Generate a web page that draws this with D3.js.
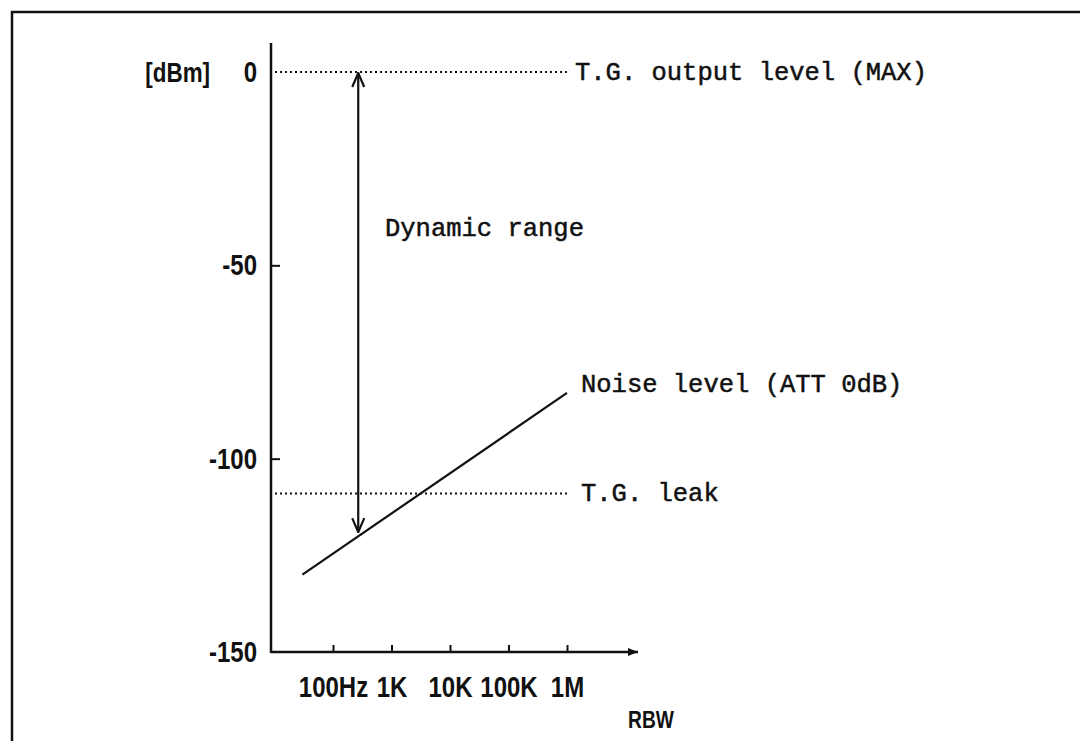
<!DOCTYPE html>
<html>
<head>
<meta charset="utf-8">
<script src="https://cdn.jsdelivr.net/npm/d3@7"></script>
<style>
  body { margin: 0; background: #fff; }
  .tick text, .lab { font-family: "Liberation Sans", Arial, sans-serif; font-weight: bold; font-size: 30px; fill: #111; }
  .note { font-family: "Liberation Mono", "DejaVu Sans Mono", monospace; font-size: 25.5px; fill: #111; stroke: #111; stroke-width: 0.5px; }
</style>
</head>
<body>
<div id="chart"></div>
<script>
// y axis (dBm)
const yTicks = [0, -50, -100, -150];
// x axis (RBW, log)
const xTicks = [100, 1e3, 1e4, 1e5, 1e6];
const xTickLabels = ["100Hz", "1K", "10K", "100K", "1M"];
// noise level vs RBW
const noiseFreq = [30, 1e6];
const noiseLevel = [-130, -83];
// reference levels
const outputLevel = 0;
const leakLevel = -109;
// dynamic range arrow
const rangeFreq = 270;
const rangeLevels = [0, -119];

const width = 1080, height = 741;
const sx = 0.8; // squeeze for the narrow, bold label font

const svg = d3.select("#chart").append("svg")
    .attr("width", width)
    .attr("height", height);

// frame (only top + left visible in the scan)
svg.append("path")
    .attr("d", "M12,741 L12,12 L1080,12")
    .attr("fill", "none")
    .attr("stroke", "#111")
    .attr("stroke-width", 2.5);

const y = d3.scaleLinear().domain([-150, 0]).range([652, 72]);
const x = d3.scaleLog().domain([100, 1e6]).range([333, 567]);
const x0 = 271; // y axis position

const defs = svg.append("defs");
defs.append("marker")
    .attr("id", "tri")
    .attr("viewBox", "0 0 10 10")
    .attr("refX", 10).attr("refY", 5)
    .attr("markerWidth", 10).attr("markerHeight", 10)
    .attr("markerUnits", "userSpaceOnUse")
    .attr("orient", "auto")
  .append("path")
    .attr("d", "M0,1 L10,5 L0,9 Z")
    .attr("fill", "#111");
defs.append("marker")
    .attr("id", "vee")
    .attr("viewBox", "0 0 16 16")
    .attr("refX", 15).attr("refY", 8)
    .attr("markerWidth", 16).attr("markerHeight", 16)
    .attr("markerUnits", "userSpaceOnUse")
    .attr("orient", "auto-start-reverse")
  .append("path")
    .attr("d", "M1,2 L15,8 L1,14")
    .attr("fill", "none")
    .attr("stroke", "#111")
    .attr("stroke-width", 2.2);

// y axis
const yAxis = svg.append("g")
    .attr("transform", `translate(${x0},0)`)
    .call(d3.axisLeft(y).tickValues(yTicks).tickSize(-9).tickPadding(14).tickFormat(d => String(d)));
yAxis.select(".domain").remove();
yAxis.selectAll(".tick line").attr("stroke", "#111").attr("stroke-width", 2);
yAxis.selectAll(".tick").filter(d => d === 0 || d === -150).select("line").remove();
yAxis.selectAll(".tick text")
    .attr("x", -14 / sx)
    .attr("transform", `scale(${sx},1)`);
svg.append("line")
    .attr("x1", x0).attr("x2", x0)
    .attr("y1", 43).attr("y2", y(-150) + 1)
    .attr("stroke", "#111").attr("stroke-width", 2.5);

svg.append("text")
    .attr("class", "lab")
    .attr("x", 210 / sx).attr("y", y(0))
    .attr("dy", "0.36em")
    .attr("text-anchor", "end")
    .attr("transform", `scale(${sx},1)`)
    .style("font-size", "28px")
    .text("[dBm]");

// x axis
const xAxis = svg.append("g")
    .attr("transform", `translate(0,${y(-150)})`)
    .call(d3.axisBottom(x).tickValues(xTicks).tickSize(-7).tickPadding(0)
      .tickFormat((d, i) => xTickLabels[i]));
xAxis.select(".domain").remove();
xAxis.selectAll(".tick line").attr("stroke", "#111").attr("stroke-width", 2);
xAxis.selectAll(".tick text")
    .attr("y", 45).attr("dy", 0)
    .attr("transform", `scale(${sx},1)`);
svg.append("line")
    .attr("x1", x0).attr("x2", 638)
    .attr("y1", y(-150)).attr("y2", y(-150))
    .attr("stroke", "#111").attr("stroke-width", 2.5)
    .attr("marker-end", "url(#tri)");

svg.append("text")
    .attr("class", "lab")
    .attr("x", 651 / sx).attr("y", 728)
    .attr("text-anchor", "middle")
    .attr("transform", `scale(${sx},1)`)
    .style("font-size", "24px")
    .text("RBW");

// dotted reference lines
const dotted = [
  { level: outputLevel, label: "T.G. output level (MAX)", tx: 575 },
  { level: leakLevel, label: "T.G. leak", tx: 581 }
];
dotted.forEach(d => {
  svg.append("line")
      .attr("x1", x0 + 4).attr("x2", 570)
      .attr("y1", y(d.level)).attr("y2", y(d.level))
      .attr("stroke", "#111").attr("stroke-width", 2)
      .attr("stroke-dasharray", "2,3");
  svg.append("text")
      .attr("class", "note")
      .attr("x", d.tx).attr("y", y(d.level) + 8)
      .text(d.label);
});

// noise line
const noise = noiseFreq.map((f, i) => [f, noiseLevel[i]]);
svg.append("path")
    .datum(noise)
    .attr("d", d3.line().x(d => x(d[0])).y(d => y(d[1])))
    .attr("fill", "none")
    .attr("stroke", "#111")
    .attr("stroke-width", 2.2);
svg.append("text")
    .attr("class", "note")
    .attr("x", 581).attr("y", 392)
    .text("Noise level (ATT 0dB)");

// dynamic range arrow
svg.append("line")
    .attr("x1", x(rangeFreq)).attr("x2", x(rangeFreq))
    .attr("y1", y(rangeLevels[0]) + 1).attr("y2", y(rangeLevels[1]))
    .attr("stroke", "#111").attr("stroke-width", 2.2)
    .attr("marker-start", "url(#vee)")
    .attr("marker-end", "url(#vee)");
svg.append("text")
    .attr("class", "note")
    .attr("x", 385).attr("y", 236)
    .text("Dynamic range");
</script>
</body>
</html>
